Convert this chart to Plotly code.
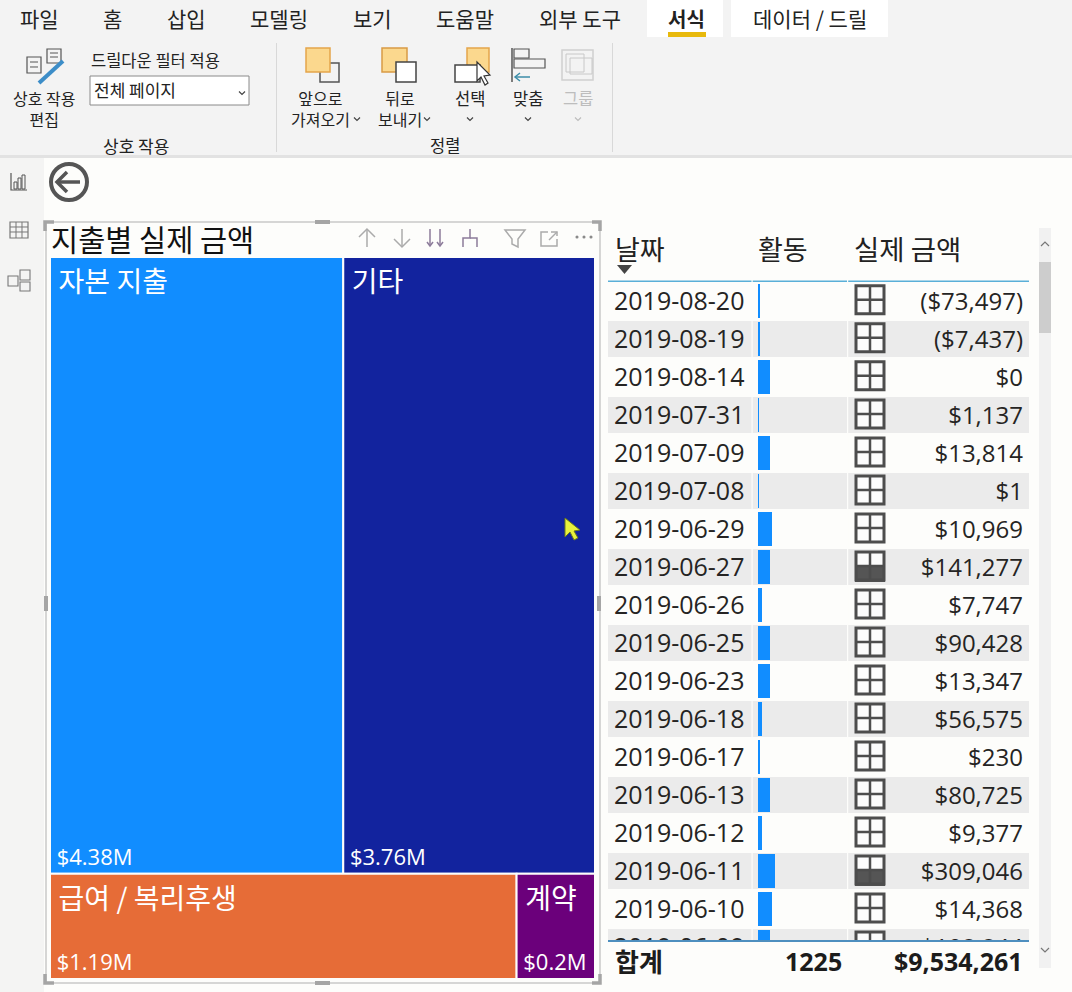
import plotly.graph_objects as go

W, H = 1072, 992
KR = "Open Sans, Noto Sans CJK KR, sans-serif"
KRO = "Noto Sans CJK KR, sans-serif"

# ---------- data ----------
categories = ["자본 지출", "기타", "급여 / 복리후생", "계약"]
actuals = [4.38, 3.76, 1.19, 0.20]
actual_labels = ["$4.38M", "$3.76M", "$1.19M", "$0.2M"]
cat_colors = ["#118DFF", "#12239E", "#E66C37", "#6B007B"]

dates = ["2019-08-20", "2019-08-19", "2019-08-14", "2019-07-31", "2019-07-09", "2019-07-08",
         "2019-06-29", "2019-06-27", "2019-06-26", "2019-06-25", "2019-06-23", "2019-06-18",
         "2019-06-17", "2019-06-13", "2019-06-12", "2019-06-11", "2019-06-10", "2019-06-09"]
activity = [1.5, 1.5, 12, 1, 12, 1, 14, 12, 4, 12, 12, 4, 1.5, 12, 4, 17, 14, 12]
amounts = ["($73,497)", "($7,437)", "$0", "$1,137", "$13,814", "$1", "$10,969", "$141,277",
           "$7,747", "$90,428", "$13,347", "$56,575", "$230", "$80,725", "$9,377", "$309,046",
           "$14,368", "$108,844"]
high_flag = [0, 0, 0, 0, 0, 0, 0, 1, 0, 0, 0, 0, 0, 0, 0, 1, 0, 0]
headers = ["날짜", "활동", "실제 금액"]
total_label, total_activity, total_amount = "합계", "1225", "$9,534,261"

rows = list(range(len(dates)))

# ---------- helpers (pixel -> paper) ----------
def X(x): return x / W
def Y(y): return 1 - y / H

shapes, annos = [], []

def rect(x0, y0, x1, y1, fill="rgba(0,0,0,0)", line=None, lw=0, layer="below"):
    shapes.append(dict(type="rect", xref="paper", yref="paper", x0=X(x0), x1=X(x1), y0=Y(y0), y1=Y(y1),
                       fillcolor=fill, line=dict(color=line or "rgba(0,0,0,0)", width=lw), layer=layer))

def poly(pts, color="#444", lw=1.5, fill=None, close=False, layer="below"):
    d = "M" + " L".join(f"{X(a):.5f},{Y(b):.5f}" for a, b in pts) + (" Z" if close else "")
    shapes.append(dict(type="path", xref="paper", yref="paper", path=d, layer=layer,
                       fillcolor=fill or "rgba(0,0,0,0)",
                       line=dict(color=color or "rgba(0,0,0,0)", width=lw if color else 0)))

def circle(cx, cy, r, color, lw):
    shapes.append(dict(type="circle", xref="paper", yref="paper", x0=X(cx - r), x1=X(cx + r), y0=Y(cy + r), y1=Y(cy - r),
                       line=dict(color=color, width=lw), fillcolor="rgba(0,0,0,0)", layer="below"))

def text(x, y, s, size=16, color="#222", anchor="center", family=KRO, bold=False):
    dx = {"left": -3, "right": 3, "center": 0}[anchor]
    annos.append(dict(xref="paper", yref="paper", x=X(x + dx), y=Y(y), text=f"<b>{s}</b>" if bold else s,
                      showarrow=False, xanchor=anchor, yanchor="middle",
                      font=dict(size=size, color=color, family=family)))

def chev(x, y, color="#444", s=3):
    poly([(x - s, y - s / 2), (x, y + s / 2), (x + s, y - s / 2)], color=color, lw=1.2)

# ---------- ribbon ----------
rect(0, 0, W, 155, fill="#F3F3F3")
rect(0, 155, W, 158, fill="#E2E2E2")
rect(0, 158, 44, H, fill="#F4F4F3")
rect(647, 0, 723, 37, fill="#FFFFFF")
rect(731, 0, 888, 37, fill="#FFFFFF")
rect(668, 32, 706, 37, fill="#E8B90C")
for cx, s, b in [(39, "파일", 0), (112, "홈", 0), (186, "삽입", 0), (279, "모델링", 0), (372, "보기", 0),
                 (465, "도움말", 0), (580, "외부 도구", 0), (686, "서식", 1), (810, "데이터 / 드릴", 0)]:
    text(cx, 18, s, size=21 if not b else 20, bold=bool(b))

# interaction icon
rect(27, 57, 41, 73, line="#555", lw=1.2)
for v in (62, 67):
    poly([(30, v), (38, v)], color="#555", lw=1)
rect(47, 49, 61, 63, fill="#F3F3F3", line="#555", lw=1.2)
for v in (53, 57):
    poly([(50, v), (58, v)], color="#555", lw=1)
poly([(39, 83), (63, 61)], color="#3C8DC8", lw=4)
text(44, 108, "상호 작용<br>편집", size=16)
text(155, 60, "드릴다운 필터 적용", size=16.5)
rect(90, 76, 249, 105, fill="#FFFFFF", line="#8A8A8A", lw=1)
text(95, 90, "전체 페이지", size=17, anchor="left")
chev(242, 93, s=3)
text(136, 145, "상호 작용", size=17)
text(445, 145, "정렬", size=16.5)
rect(276, 43, 277, 152, fill="#D8D8D8")
rect(612, 43, 613, 152, fill="#D8D8D8")

# arrange icons
rect(320, 63, 339, 82, fill="#F3F3F3", line="#555", lw=1.5)
rect(306, 48, 330, 72, fill="#FBD88E", line="#E5A54B", lw=1.5)
rect(382, 48, 407, 72, fill="#FBD88E", line="#D99A45", lw=1.5)
rect(396, 62, 416, 82, fill="#FFFFFF", line="#444", lw=1.5)
rect(467, 48, 489, 72, fill="#FBD88E", line="#E5A54B", lw=1.5)
rect(455, 65, 480, 82, fill="#FFFFFF", line="#444", lw=1.5)
poly([(477, 62), (477, 81), (481, 77), (485, 85), (488, 83), (484, 76), (490, 75)], color="#333", lw=1.2, fill="#FFFFFF", close=True)
poly([(512, 48), (512, 82)], color="#555", lw=1.5)
rect(514, 49, 529, 58, line="#555", lw=1.2)
rect(514, 59, 545, 68, line="#555", lw=1.2)
poly([(530, 77), (515, 77)], color="#3C8DA8", lw=1.5)
poly([(520, 73), (515, 77), (520, 81)], color="#3C8DA8", lw=1.5)
rect(562, 50, 593, 80, line="#D0D0D0", lw=1.5)
rect(570, 58, 592, 74, line="#C8C8C8", lw=1)
rect(566, 54, 584, 72, line="#C8C8C8", lw=1)
text(320, 108, "앞으로<br>가져오기", size=16)
chev(357, 119)
text(400, 108, "뒤로<br>보내기", size=16)
chev(427, 119)
text(470, 98, "선택", size=16.5)
chev(470, 119)
text(528, 98, "맞춤", size=16.5)
chev(528, 119)
text(578, 98, "그룹", size=16.5, color="#BDBDBD")
chev(578, 119, color="#BDBDBD")

# left rail icons
poly([(11, 173), (11, 190), (27, 190)], color="#555", lw=1.2)
for a, t in [(14, 182), (18, 178), (22, 175)]:
    rect(a, t, a + 3, 189, line="#555", lw=1)
rect(10, 222, 28, 238, line="#777", lw=1.2)
for v in (16, 22):
    poly([(v, 222), (v, 238)], color="#777", lw=1)
for v in (227, 232):
    poly([(10, v), (28, v)], color="#777", lw=1)
rect(8, 276, 18, 286, line="#777", lw=1.1)
rect(20, 270, 30, 280, line="#777", lw=1.1)
rect(20, 282, 30, 291, line="#777", lw=1.1)

# back button
circle(69, 182, 18, "#555", 4)
poly([(80, 182), (58, 182)], color="#555", lw=3.5)
poly([(67, 172), (57, 182), (67, 192)], color="#555", lw=3.5)

# visual frame
rect(46, 222, 600, 983, line="#C9C9C9", lw=1.5)
for pts in ([(45, 231), (45, 222), (54, 222)], [(592, 222), (600, 222), (600, 231)],
            [(45, 974), (45, 983), (54, 983)], [(592, 983), (600, 983), (600, 974)]):
    poly(pts, color="#A5A5A5", lw=3.5)
rect(315, 220, 330, 224, fill="#A5A5A5")
rect(315, 981, 330, 985, fill="#A5A5A5")
rect(44, 596, 48, 611, fill="#A5A5A5")
rect(597, 596, 601, 611, fill="#A5A5A5")
text(52, 238, "지출별 실제 금액", size=29.5, anchor="left", color="#111")

# visual header icons
G, P = "#ABABAB", "#8C7B9A"
poly([(367, 247), (367, 230)], color=G); poly([(359, 237), (367, 229), (375, 237)], color=G)
poly([(402, 229), (402, 246)], color=G); poly([(394, 239), (402, 247), (410, 239)], color=G)
for x0 in (430, 440):
    poly([(x0, 229), (x0, 246)], color=P); poly([(x0 - 3, 242), (x0, 246), (x0 + 3, 242)], color=P)
poly([(470, 229), (470, 238), (463, 238), (463, 247)], color=P)
poly([(470, 238), (477, 238), (477, 247)], color=P)
poly([(505, 230), (525, 230), (518, 239), (518, 247), (512, 244), (512, 239)], color=G, close=True)
poly([(548, 232), (541, 232), (541, 246), (557, 246), (557, 239)], color=G)
poly([(549, 240), (557, 232)], color=G); poly([(551, 232), (557, 232), (557, 236)], color=G)
for x0 in (577, 584, 591):
    circle(x0, 237, 0.8, "#8A8A8A", 1.5)

# table header and rules
text(616, 248, headers[0], size=27, anchor="left")
text(759, 248, headers[1], size=27, anchor="left")
text(855, 248, headers[2], size=27.5, anchor="left")
poly([(617, 265), (632, 265), (624.5, 274)], color=None, fill="#444", close=True)
rect(608, 280.5, 1029, 282, fill="#5AAFD8", layer="above")
rect(608, 940, 1029, 942, fill="#4E8FBF", layer="above")
for v in (751.5, 847):
    rect(v, 280, v + 1.2, 940, fill="#FDFDFB", layer="above")
text(616, 960, total_label, size=26, anchor="left", bold=True, color="#1c1c1c")
text(841, 961, total_activity, size=25, anchor="right", family=KR, bold=True, color="#1c1c1c")
text(1022, 961, total_amount, size=25, anchor="right", family=KR, bold=True, color="#1c1c1c")

# scrollbar
rect(1039, 228, 1051, 968, fill="#F1F1F1")
rect(1039, 262, 1051, 333, fill="#CDCDCD")
poly([(1041, 246), (1045, 242), (1049, 246)], color="#777", lw=1.2)
poly([(1041, 948), (1045, 952), (1049, 948)], color="#777", lw=1.2)

# mouse pointer on canvas
poly([(565, 518), (565, 537), (570, 532), (574, 540), (578, 538), (574, 531), (580, 530)],
     color="#6B7A1E", lw=1, fill="#E8F23C", close=True, layer="above")

fig = go.Figure()

# ---------- treemap ----------
dom = dict(x=[X(50), X(595)], y=[Y(979), Y(257)])
tiling = dict(packing="squarify", squarifyratio=2, pad=0)
fig.add_trace(go.Treemap(labels=categories, parents=[""] * 4, values=actuals, domain=dom, sort=True,
                         tiling=tiling, pathbar=dict(visible=False), texttemplate="\u2009%{label}",
                         textposition="top left", textfont=dict(size=28, color="#FFFFFF", family=KRO),
                         marker=dict(colors=cat_colors, line=dict(color="#FDFDFB", width=2),
                                     pad=dict(t=0, l=0, r=0, b=0))))
fig.add_trace(go.Treemap(labels=categories, parents=[""] * 4, values=actuals, text=actual_labels, domain=dom, sort=True,
                         tiling=tiling, pathbar=dict(visible=False), texttemplate="\u2009%{text}",
                         textposition="bottom left", textfont=dict(size=22, color="#FFFFFF", family=KR),
                         marker=dict(colors=["rgba(0,0,0,0)"] * 4, line=dict(color="rgba(0,0,0,0)", width=0),
                                     pad=dict(t=0, l=0, r=0, b=0))))

# ---------- table (x: pixels from table left, y: row index) ----------
TABLE_W = 421
ACT_BASE, ICON_X, DATE_X, AMT_X = 150, 262, 6, 415
TEXT_NUDGE = 0.08
shade = rows[1::2]
text_rows = [r + TEXT_NUDGE for r in rows]
icon_rows = [r - 0.03 for r in rows]
fig.add_trace(go.Bar(y=shade, x=[TABLE_W] * len(shade), base=0, orientation="h", width=0.96,
                     marker=dict(color="#EBEBEB", line=dict(width=0)), xaxis="x", yaxis="y", showlegend=False))
fig.add_trace(go.Bar(y=rows, x=activity, base=ACT_BASE, orientation="h", width=0.9,
                     marker=dict(color="#118DFF", line=dict(width=0)), xaxis="x", yaxis="y", showlegend=False))
fig.add_trace(go.Scatter(x=[ICON_X] * len(rows), y=icon_rows, mode="markers", cliponaxis=True,
                         marker=dict(symbol="square", size=28, color="#FCFCFC", line=dict(width=0)),
                         xaxis="x", yaxis="y", showlegend=False))
flag_rows = [r + 0.2 for r, f in zip(rows, high_flag) if f]
fig.add_trace(go.Bar(y=flag_rows, x=[30] * len(flag_rows), base=ICON_X - 15, orientation="h", width=0.38,
                     marker=dict(color="#555555", line=dict(width=0)), xaxis="x2", yaxis="y2", showlegend=False))
fig.add_trace(go.Scatter(x=[ICON_X] * len(rows), y=icon_rows, mode="markers", cliponaxis=True,
                         marker=dict(symbol="cross-thin-open", size=21, color="#4D4D4D", line=dict(color="#4D4D4D", width=2.5)),
                         xaxis="x2", yaxis="y2", showlegend=False))
fig.add_trace(go.Scatter(x=[ICON_X] * len(rows), y=icon_rows, mode="markers", cliponaxis=True,
                         marker=dict(symbol="square-open", size=28, color="#4D4D4D", line=dict(color="#4D4D4D", width=3)),
                         xaxis="x2", yaxis="y2", showlegend=False))
fig.add_trace(go.Scatter(x=[DATE_X] * len(rows), y=text_rows, mode="text", text=dates, textposition="middle right",
                         textfont=dict(size=25, color="#252423", family=KR), cliponaxis=True,
                         xaxis="x2", yaxis="y2", showlegend=False))
fig.add_trace(go.Scatter(x=[AMT_X] * len(rows), y=text_rows, mode="text", text=amounts, textposition="middle left",
                         textfont=dict(size=24, color="#252423", family=KR), cliponaxis=True,
                         xaxis="x2", yaxis="y2", showlegend=False))

xdom, ydom = [X(608), X(608 + TABLE_W)], [Y(941), Y(282)]
fig.update_layout(
    width=W, height=H, margin=dict(l=0, r=0, t=0, b=0), autosize=False,
    paper_bgcolor="#FDFDFB", plot_bgcolor="rgba(0,0,0,0)", barmode="overlay", showlegend=False,
    shapes=shapes, annotations=annos, bargap=0,
    xaxis=dict(domain=xdom, range=[0, TABLE_W], visible=False, fixedrange=True),
    yaxis=dict(domain=ydom, range=[16.84, -0.5], visible=False, fixedrange=True),
    xaxis2=dict(domain=xdom, range=[0, TABLE_W], visible=False, fixedrange=True, anchor="y2"),
    yaxis2=dict(domain=ydom, range=[16.84, -0.5], visible=False, fixedrange=True, anchor="x2"),
)
fig.write_html("out.html", config=dict(displayModeBar=False),
               post_script="document.body.style.margin='0';document.body.style.overflow='hidden';")
